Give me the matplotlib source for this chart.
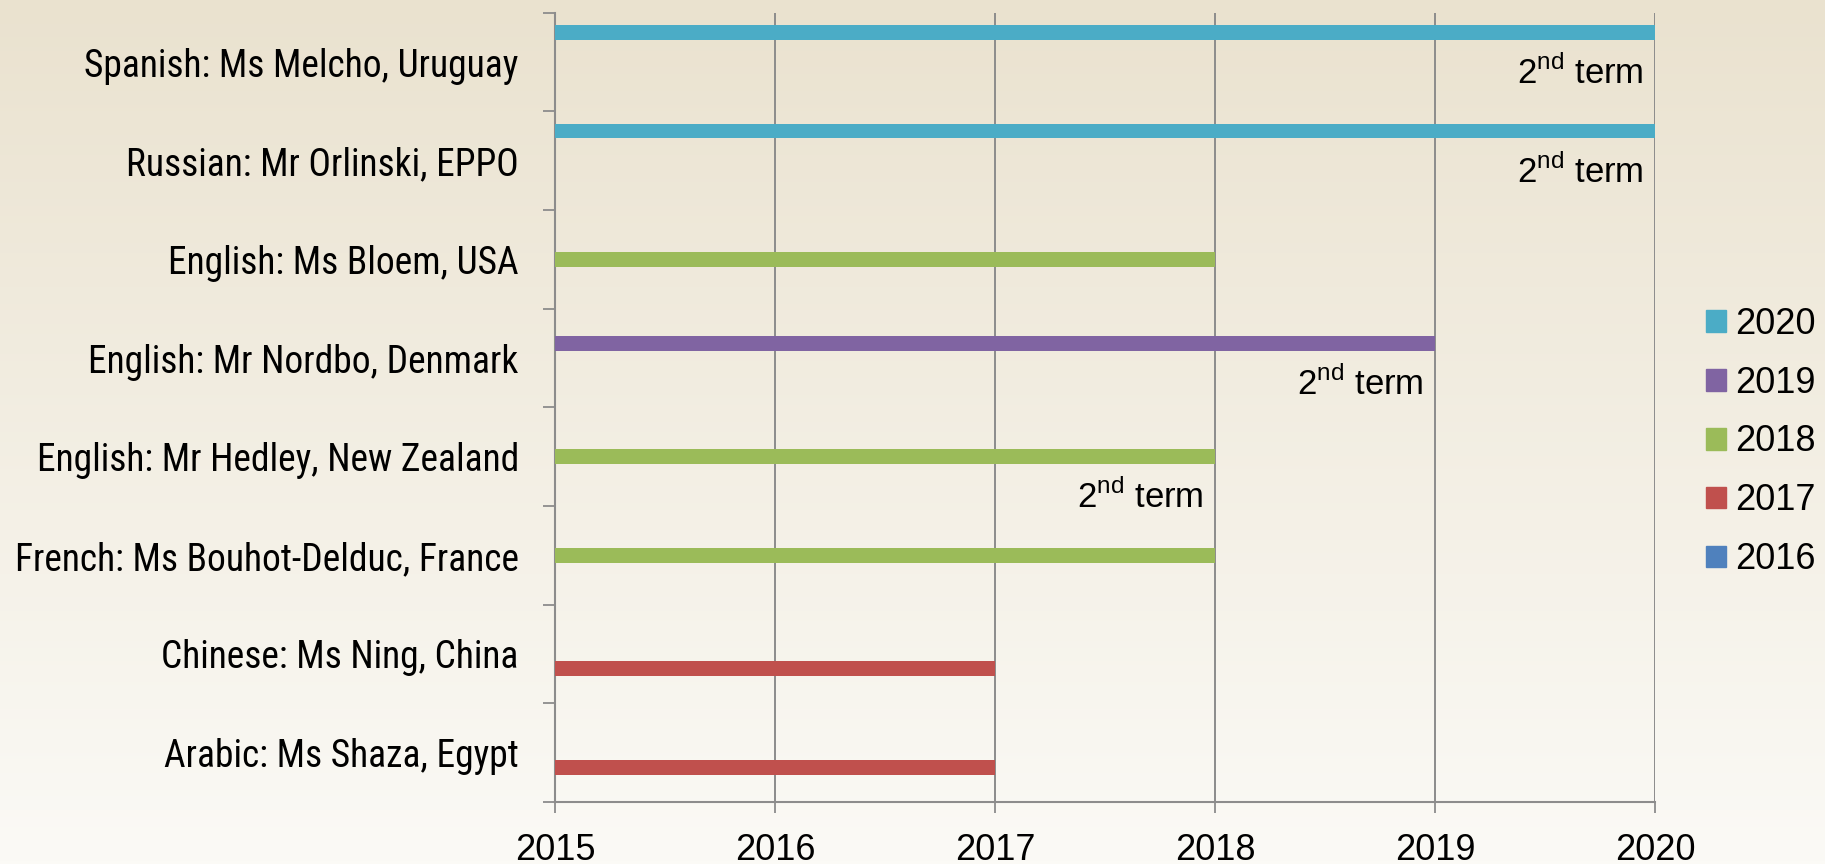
import matplotlib
matplotlib.use("Agg")
import matplotlib.pyplot as plt
import numpy as np
from matplotlib.patches import Patch
from matplotlib import font_manager

# chart data (top to bottom)
names = ["Spanish: Ms Melcho, Uruguay", "Russian: Mr Orlinski, EPPO", "English: Ms Bloem, USA",
         "English: Mr Nordbo, Denmark", "English: Mr Hedley, New Zealand",
         "French: Ms Bouhot-Delduc, France", "Chinese: Ms Ning, China", "Arabic: Ms Shaza, Egypt"]
term_end = [2020, 2020, 2018, 2019, 2018, 2018, 2017, 2017]
second_term = [True, True, False, True, True, False, False, False]
series_years = [2016, 2017, 2018, 2019, 2020]
series_colors = ["#4F81BD", "#C0504D", "#9BBB59", "#8064A2", "#4BACC6"]
start_year = 2015
year_ticks = [2015, 2016, 2017, 2018, 2019, 2020]

plt.rcParams['font.family'] = ['Liberation Sans', 'DejaVu Sans']
plt.rcParams['mathtext.fontset'] = 'custom'
plt.rcParams['mathtext.rm'] = 'Liberation Sans'
grey = '#8c8c8c'

# the category labels use a narrow face in the original; pick what is installed
installed = {f.name for f in font_manager.fontManager.ttflist}
if 'Liberation Sans Narrow' in installed:
    label_font, label_size = 'Liberation Sans Narrow', 28
elif 'Roboto Condensed' in installed:
    label_font, label_size = 'Roboto Condensed', 27
else:
    label_font, label_size = 'Liberation Sans', 23.5

fig = plt.figure(figsize=(18.25, 8.64), dpi=100)

# background gradient
bg = fig.add_axes([0, 0, 1, 1], zorder=-10)
top_c = np.array([234, 226, 207]) / 255
bot_c = np.array([251, 250, 246]) / 255
t = np.linspace(0, 1, 256)[:, None, None]
bg.imshow(top_c + (bot_c - top_c) * t, aspect='auto', extent=[0, 1, 0, 1])
bg.axis('off')

ax = fig.add_axes([0.3041, 0.0718, 0.6027, 0.9135])
ax.patch.set_alpha(0)

y = np.arange(len(names))
bar_h = 0.15
for k, (yr, col) in enumerate(zip(series_years, series_colors)):
    off = -(k - 2) * bar_h
    idx = [i for i, e in enumerate(term_end) if e == yr]
    ax.barh(y[idx] + off, [term_end[i] - start_year for i in idx], left=start_year,
            height=bar_h, color=col, zorder=3)

for i, (e, s) in enumerate(zip(term_end, second_term)):
    if s:
        k = series_years.index(e)
        yb = y[i] - (k - 2) * bar_h
        ax.text(e - 0.05, yb + 0.525, r"2$^{\mathrm{nd}}$ term", ha='right', va='baseline',
                fontsize=25, zorder=4)

ax.set_xlim(start_year, 2020)
ax.set_ylim(len(names) - 0.5, -0.5)
ax.set_xticks(year_ticks)
ax.set_yticks(y)
ax.set_yticklabels(names, fontsize=label_size, family=[label_font, 'Liberation Sans', 'DejaVu Sans'])
ax.set_yticks(np.arange(len(names) + 1) - 0.5, minor=True)
ax.tick_params(axis='y', which='major', length=0, pad=26)
ax.tick_params(axis='y', which='minor', length=8.6, width=1.3, color=grey, direction='out')
ax.tick_params(axis='x', length=8, width=1.3, color=grey, labelsize=26, pad=14)
ax.grid(axis='x', color=grey, linewidth=1.4)
ax.set_axisbelow(True)
for s in ['top', 'right']:
    ax.spines[s].set_visible(False)
for s in ['left', 'bottom']:
    ax.spines[s].set_color(grey)
    ax.spines[s].set_linewidth(1.5)

handles = [Patch(color=c, label=str(yr)) for yr, c in zip(series_years, series_colors)][::-1]
fig.legend(handles=handles, loc='center left', bbox_to_anchor=(1706 / 1825, 1 - 442 / 864),
           frameon=False, prop={'size': 26}, handlelength=0.55, handleheight=0.55,
           handletextpad=0.25, labelspacing=0.66, borderpad=0, borderaxespad=0)

fig.savefig('out.png', dpi=100)
